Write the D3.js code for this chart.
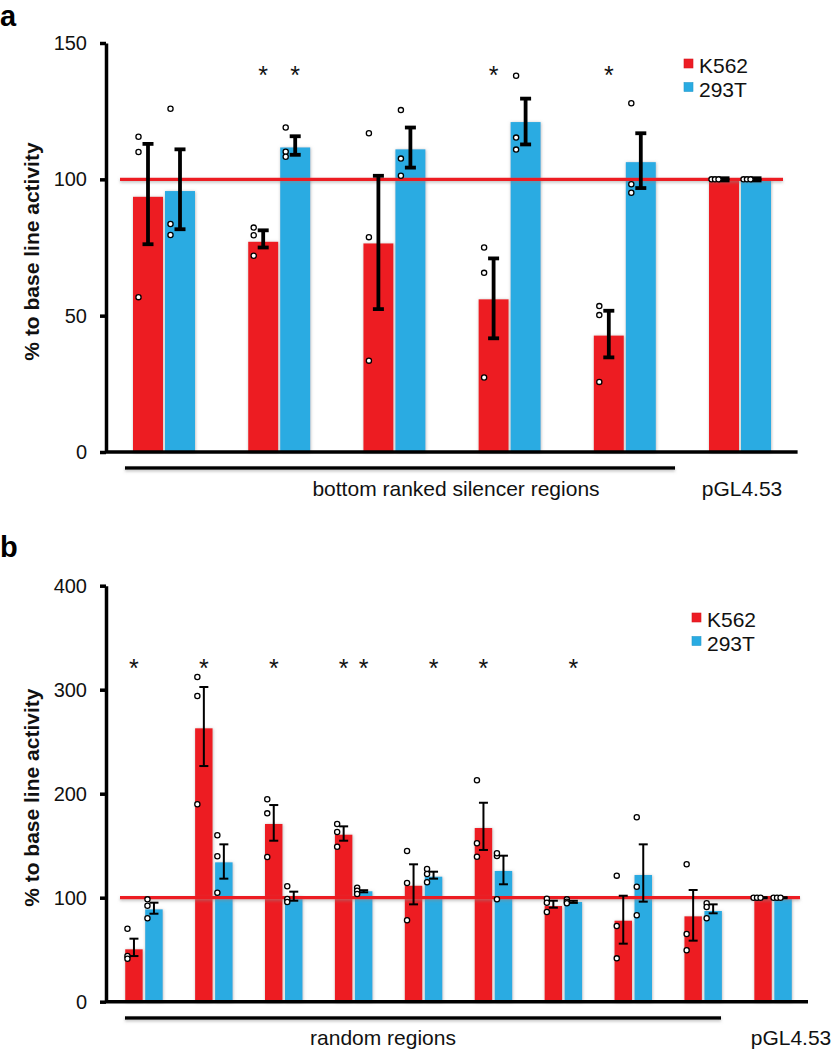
<!DOCTYPE html>
<html>
<head>
<meta charset="utf-8">
<script src="https://cdn.jsdelivr.net/npm/d3@7"></script>
<style>
  html, body { margin: 0; padding: 0; background: #fff; }
  svg { display: block; font-family: Arial, "Liberation Sans", sans-serif; }
</style>
</head>
<body>
<svg id="chart" width="832" height="1050"></svg>
<script>
// ---------------- DATA ----------------
const seriesNames = ["K562", "293T"];
const seriesColors = ["#ED1C24", "#29ABE2"];
const legendLabels = ["K562", "293T"];
const yTitle = "% to base line activity";

// Panel a
const groupsA = ["S1", "S2", "S3", "S4", "S5", "pGL4.53"];
const ticksA = [0, 50, 100, 150];
const k562MeanA = [93.6, 77.1, 76.5, 56.0, 42.7, 100];
const k562HiA   = [113, 81.3, 101.3, 71, 51.8, 100.4];
const k562LoA   = [76.2, 75, 52.4, 41.7, 34.7, 99.6];
const k562PtsA  = [[115.6,110,56.8],[82.3,79.5,72],[116.9,78.8,33.5],[75,65.7,27.3],[53.5,50.2,25.7],[100,100,100]];
const t293MeanA = [95.7, 111.7, 111, 121, 106.3, 100];
const t293HiA   = [111, 115.8, 119, 129.6, 116.9, 100.4];
const t293LoA   = [81.7, 109, 104.3, 112.8, 96.8, 99.6];
const t293PtsA  = [[125.9,83.6,79.6],[119,110.1,108.3],[125.4,107.6,101.3],[138,115.3,110.9],[127.9,98.2,95.1],[100,100,100]];
const starsA = [["S2","K562"],["S2","293T"],["S4","K562"],["S5","K562"]];
const starLevelA = 140;
const groupLabelA = "bottom ranked silencer regions";
const controlLabel = "pGL4.53";

// Panel b
const groupsB = ["R1","R2","R3","R4","R5","R6","R7","R8","R9","pGL4.53"];
const ticksB = [0, 100, 200, 300, 400];
const k562MeanB = [50.4, 262.9, 170.9, 160.6, 111.5, 167, 92, 77.9, 82.1, 100];
const k562HiB   = [60.6, 302.6, 189.1, 168.6, 132.1, 191.3, 97.1, 101.9, 107.4, 100.5];
const k562LoB   = [43.9, 226.6, 154.8, 154.8, 93.6, 145.9, 90.4, 55.8, 58.7, 99.5];
const k562PtsB  = [[70.2,43.9,41.3],[312.2,294,189.8],[194.6,181.1,139.1],[170.9,163.2,149],[144.9,114.1,78.3],[213,152.3,139.4],[99,95.2,86.2],[121.2,72.8,41.7],[132.1,65.1,49.4],[100,100,100]];
const t293MeanB = [88.8, 134, 101, 106.2, 120.2, 125.7, 95.9, 121.8, 87.2, 100];
const t293HiB   = [95.2, 151.3, 105.8, 107.2, 125, 140.4, 97, 151.3, 93.6, 100.5];
const t293LoB   = [84.6, 118.3, 97.1, 105.2, 118.3, 112.9, 95, 96.2, 85, 99.5];
const t293PtsB  = [[98.4,92.3,80.2],[160,139.8,104.8],[111,98.8,95.9],[109.6,106.7,103.6],[127.6,122.8,114.8],[140.1,142.7,98.5],[98.4,96.2,94.6],[177.3,110.6,83.1],[94.6,91.1,80.2],[100,100,100]];
const starsB = [["R1","K562"],["R2","K562"],["R3","K562"],["R4","K562"],["R4","293T"],["R5","293T"],["R6","K562"],["R7","293T"]];
const starLevelB = 326;
const groupLabelB = "random regions";
const baseline = 100;

// ---------------- DRAW ----------------
const svg = d3.select("#chart");
const defs = svg.append("defs");
const f = defs.append("filter").attr("id", "shadow").attr("x", "-30%").attr("y", "-5%").attr("width", "160%").attr("height", "110%");
f.append("feDropShadow").attr("dx", 0.5).attr("dy", 0.5).attr("stdDeviation", 1.6)
  .attr("flood-color", "#888").attr("flood-opacity", 0.6);
const fl = defs.append("filter").attr("id", "lshadow").attr("filterUnits", "userSpaceOnUse")
  .attr("x", 0).attr("y", 0).attr("width", 832).attr("height", 1050);
fl.append("feDropShadow").attr("dx", 0).attr("dy", 1.5).attr("stdDeviation", 1.4)
  .attr("flood-color", "#888").attr("flood-opacity", 0.55);

function panel(cfg) {
  const g = svg.append("g");
  const x0 = d3.scaleBand().domain(cfg.groups).range(cfg.xRange);
  const x1 = d3.scaleBand().domain(seriesNames).range([-cfg.pairW / 2, cfg.pairW / 2]).paddingInner(cfg.pad);
  const y = d3.scaleLinear().domain(cfg.yDomain).range(cfg.yRange);

  const series = [
    { name: "K562", mean: cfg.k562Mean, hi: cfg.k562Hi, lo: cfg.k562Lo, pts: cfg.k562Pts },
    { name: "293T", mean: cfg.t293Mean, hi: cfg.t293Hi, lo: cfg.t293Lo, pts: cfg.t293Pts }
  ];
  const bars = [];
  series.forEach((s, si) => {
    cfg.groups.forEach((grp, gi) => {
      bars.push({ grp, series: s.name, si, v: s.mean[gi], hi: s.hi[gi], lo: s.lo[gi], pts: s.pts[gi] });
    });
  });
  const cx = d => x0(d.grp) + x0.bandwidth() / 2 + x1(d.series);

  // bars
  g.selectAll("rect.bar").data(bars).enter().append("rect")
    .attr("class", "bar")
    .attr("x", d => cx(d))
    .attr("y", d => y(d.v))
    .attr("width", x1.bandwidth())
    .attr("height", d => y(0) - y(d.v))
    .attr("fill", d => seriesColors[d.si])
    .attr("filter", "url(#shadow)");

  // baseline line
  g.append("line")
    .attr("x1", cfg.lineX[0]).attr("x2", cfg.lineX[1])
    .attr("y1", y(baseline)).attr("y2", y(baseline))
    .attr("stroke", "#ED1C24").attr("stroke-width", 3.2)
    .attr("filter", "url(#lshadow)");

  // error bars
  const eb = g.selectAll("g.eb").data(bars).enter().append("g")
    .attr("stroke", "#000").attr("stroke-width", cfg.ebW).attr("fill", "none");
  const ex = d => cx(d) + x1.bandwidth() / 2;
  eb.append("line").attr("x1", ex).attr("x2", ex).attr("y1", d => y(d.hi)).attr("y2", d => y(d.lo));
  eb.append("line").attr("x1", d => ex(d) - cfg.capW / 2).attr("x2", d => ex(d) + cfg.capW / 2)
    .attr("y1", d => y(d.hi)).attr("y2", d => y(d.hi));
  eb.append("line").attr("x1", d => ex(d) - cfg.capW / 2).attr("x2", d => ex(d) + cfg.capW / 2)
    .attr("y1", d => y(d.lo)).attr("y2", d => y(d.lo));

  // points
  const pts = [];
  bars.forEach(b => {
    const same = b.pts.every(p => p === b.pts[0]);
    b.pts.forEach((p, i) => {
      const dx = same ? cfg.ptDx - 3 + i * 3.5 : cfg.ptDx;
      pts.push({ x: ex(b) + dx, v: p });
    });
  });
  g.selectAll("circle.pt").data(pts).enter().append("circle")
    .attr("cx", d => d.x).attr("cy", d => y(d.v)).attr("r", cfg.ptR)
    .attr("fill", "#fff").attr("stroke", "#000").attr("stroke-width", 1.3);

  // asterisks
  g.selectAll("text.star").data(cfg.stars).enter().append("text")
    .attr("x", d => x0(d[0]) + x0.bandwidth() / 2 + x1(d[1]) + x1.bandwidth() / 2)
    .attr("y", y(cfg.starLevel) + 14)
    .attr("text-anchor", "middle").attr("font-size", 25).attr("fill", "#111")
    .text("*");

  // y axis
  const ya = g.append("g").attr("transform", `translate(${cfg.xAxisX},0)`)
    .call(d3.axisLeft(y).tickValues(cfg.ticks).tickSize(6).tickSizeOuter(0).tickPadding(13));
  ya.select(".domain").attr("stroke", "#000").attr("stroke-width", 3.5);
  ya.selectAll(".tick line").attr("stroke", "#000").attr("stroke-width", 3.5);
  ya.selectAll(".tick text").attr("font-size", 20).attr("fill", "#111")
    .attr("font-family", "Arial, 'Liberation Sans', sans-serif");

  // x axis (no ticks)
  const xa = g.append("g").attr("transform", `translate(0,${y(0)})`)
    .call(d3.axisBottom(x0).tickValues([]).tickSizeOuter(0));
  xa.select(".domain").attr("stroke", "#000").attr("stroke-width", 3.5)
    .attr("d", `M${cfg.xAxisX},0H${cfg.xRange[1]}`);

  // group underline
  g.append("line")
    .attr("x1", cfg.underline[0]).attr("x2", cfg.underline[1])
    .attr("y1", cfg.underlineY).attr("y2", cfg.underlineY)
    .attr("stroke", "#000").attr("stroke-width", 3.5)
    .attr("filter", "url(#lshadow)");
  g.append("text").attr("x", cfg.labelX).attr("y", cfg.labelY)
    .attr("text-anchor", "middle").attr("font-size", 21).attr("fill", "#111")
    .text(cfg.groupLabel);
  g.append("text").attr("x", cfg.ctrlX).attr("y", cfg.labelY)
    .attr("text-anchor", "middle").attr("font-size", 21).attr("fill", "#111")
    .text(controlLabel);

  // y title
  g.append("text")
    .attr("transform", `translate(39,${(cfg.yRange[0] + cfg.yRange[1]) / 2 + 4}) rotate(-90)`)
    .attr("text-anchor", "middle").attr("font-size", 21).attr("font-weight", "bold").attr("fill", "#111")
    .text(yTitle);

  // panel letter
  g.append("text").attr("x", 0).attr("y", cfg.letterY)
    .attr("font-size", 29).attr("font-weight", "bold").attr("fill", "#000")
    .text(cfg.letter);

  // legend
  const lg = g.append("g").attr("transform", `translate(${cfg.legend[0]},${cfg.legend[1]})`);
  legendLabels.forEach((lab, i) => {
    lg.append("rect").attr("x", 0).attr("y", i * 23.5 - 14).attr("width", 9).attr("height", 9)
      .attr("fill", seriesColors[i]).attr("stroke", d3.color(seriesColors[i]).darker(0.3)).attr("stroke-width", 0.6);
    lg.append("text").attr("x", 15).attr("y", i * 23.5).attr("font-size", 21).attr("fill", "#111").text(lab);
  });
}

panel({
  letter: "a", letterY: 26,
  groups: groupsA, xRange: [106.4, 797.6], pairW: 62, pad: 0.0625,
  yDomain: [0, 150], yRange: [452, 43], ticks: ticksA, xAxisX: 106,
  k562Mean: k562MeanA, k562Hi: k562HiA, k562Lo: k562LoA, k562Pts: k562PtsA,
  t293Mean: t293MeanA, t293Hi: t293HiA, t293Lo: t293LoA, t293Pts: t293PtsA,
  stars: starsA, starLevel: starLevelA,
  ebW: 3.8, capW: 11, ptR: 2.6, ptDx: -9.5,
  lineX: [120, 783],
  underline: [125, 675], underlineY: 468, labelX: 456, labelY: 496, ctrlX: 742,
  groupLabel: groupLabelA,
  legend: [684, 73]
});

panel({
  letter: "b", letterY: 557,
  groups: groupsB, xRange: [109, 808], pairW: 37.5, pad: 0.125,
  yDomain: [0, 400], yRange: [1001.7, 585.7], ticks: ticksB, xAxisX: 106,
  k562Mean: k562MeanB, k562Hi: k562HiB, k562Lo: k562LoB, k562Pts: k562PtsB,
  t293Mean: t293MeanB, t293Hi: t293HiB, t293Lo: t293LoB, t293Pts: t293PtsB,
  stars: starsB, starLevel: starLevelB,
  ebW: 2, capW: 9, ptR: 2.6, ptDx: -6.5,
  lineX: [120, 800],
  underline: [125, 721], underlineY: 1018, labelX: 383, labelY: 1045, ctrlX: 791,
  groupLabel: groupLabelB,
  legend: [692, 627]
});
</script>
</body>
</html>
